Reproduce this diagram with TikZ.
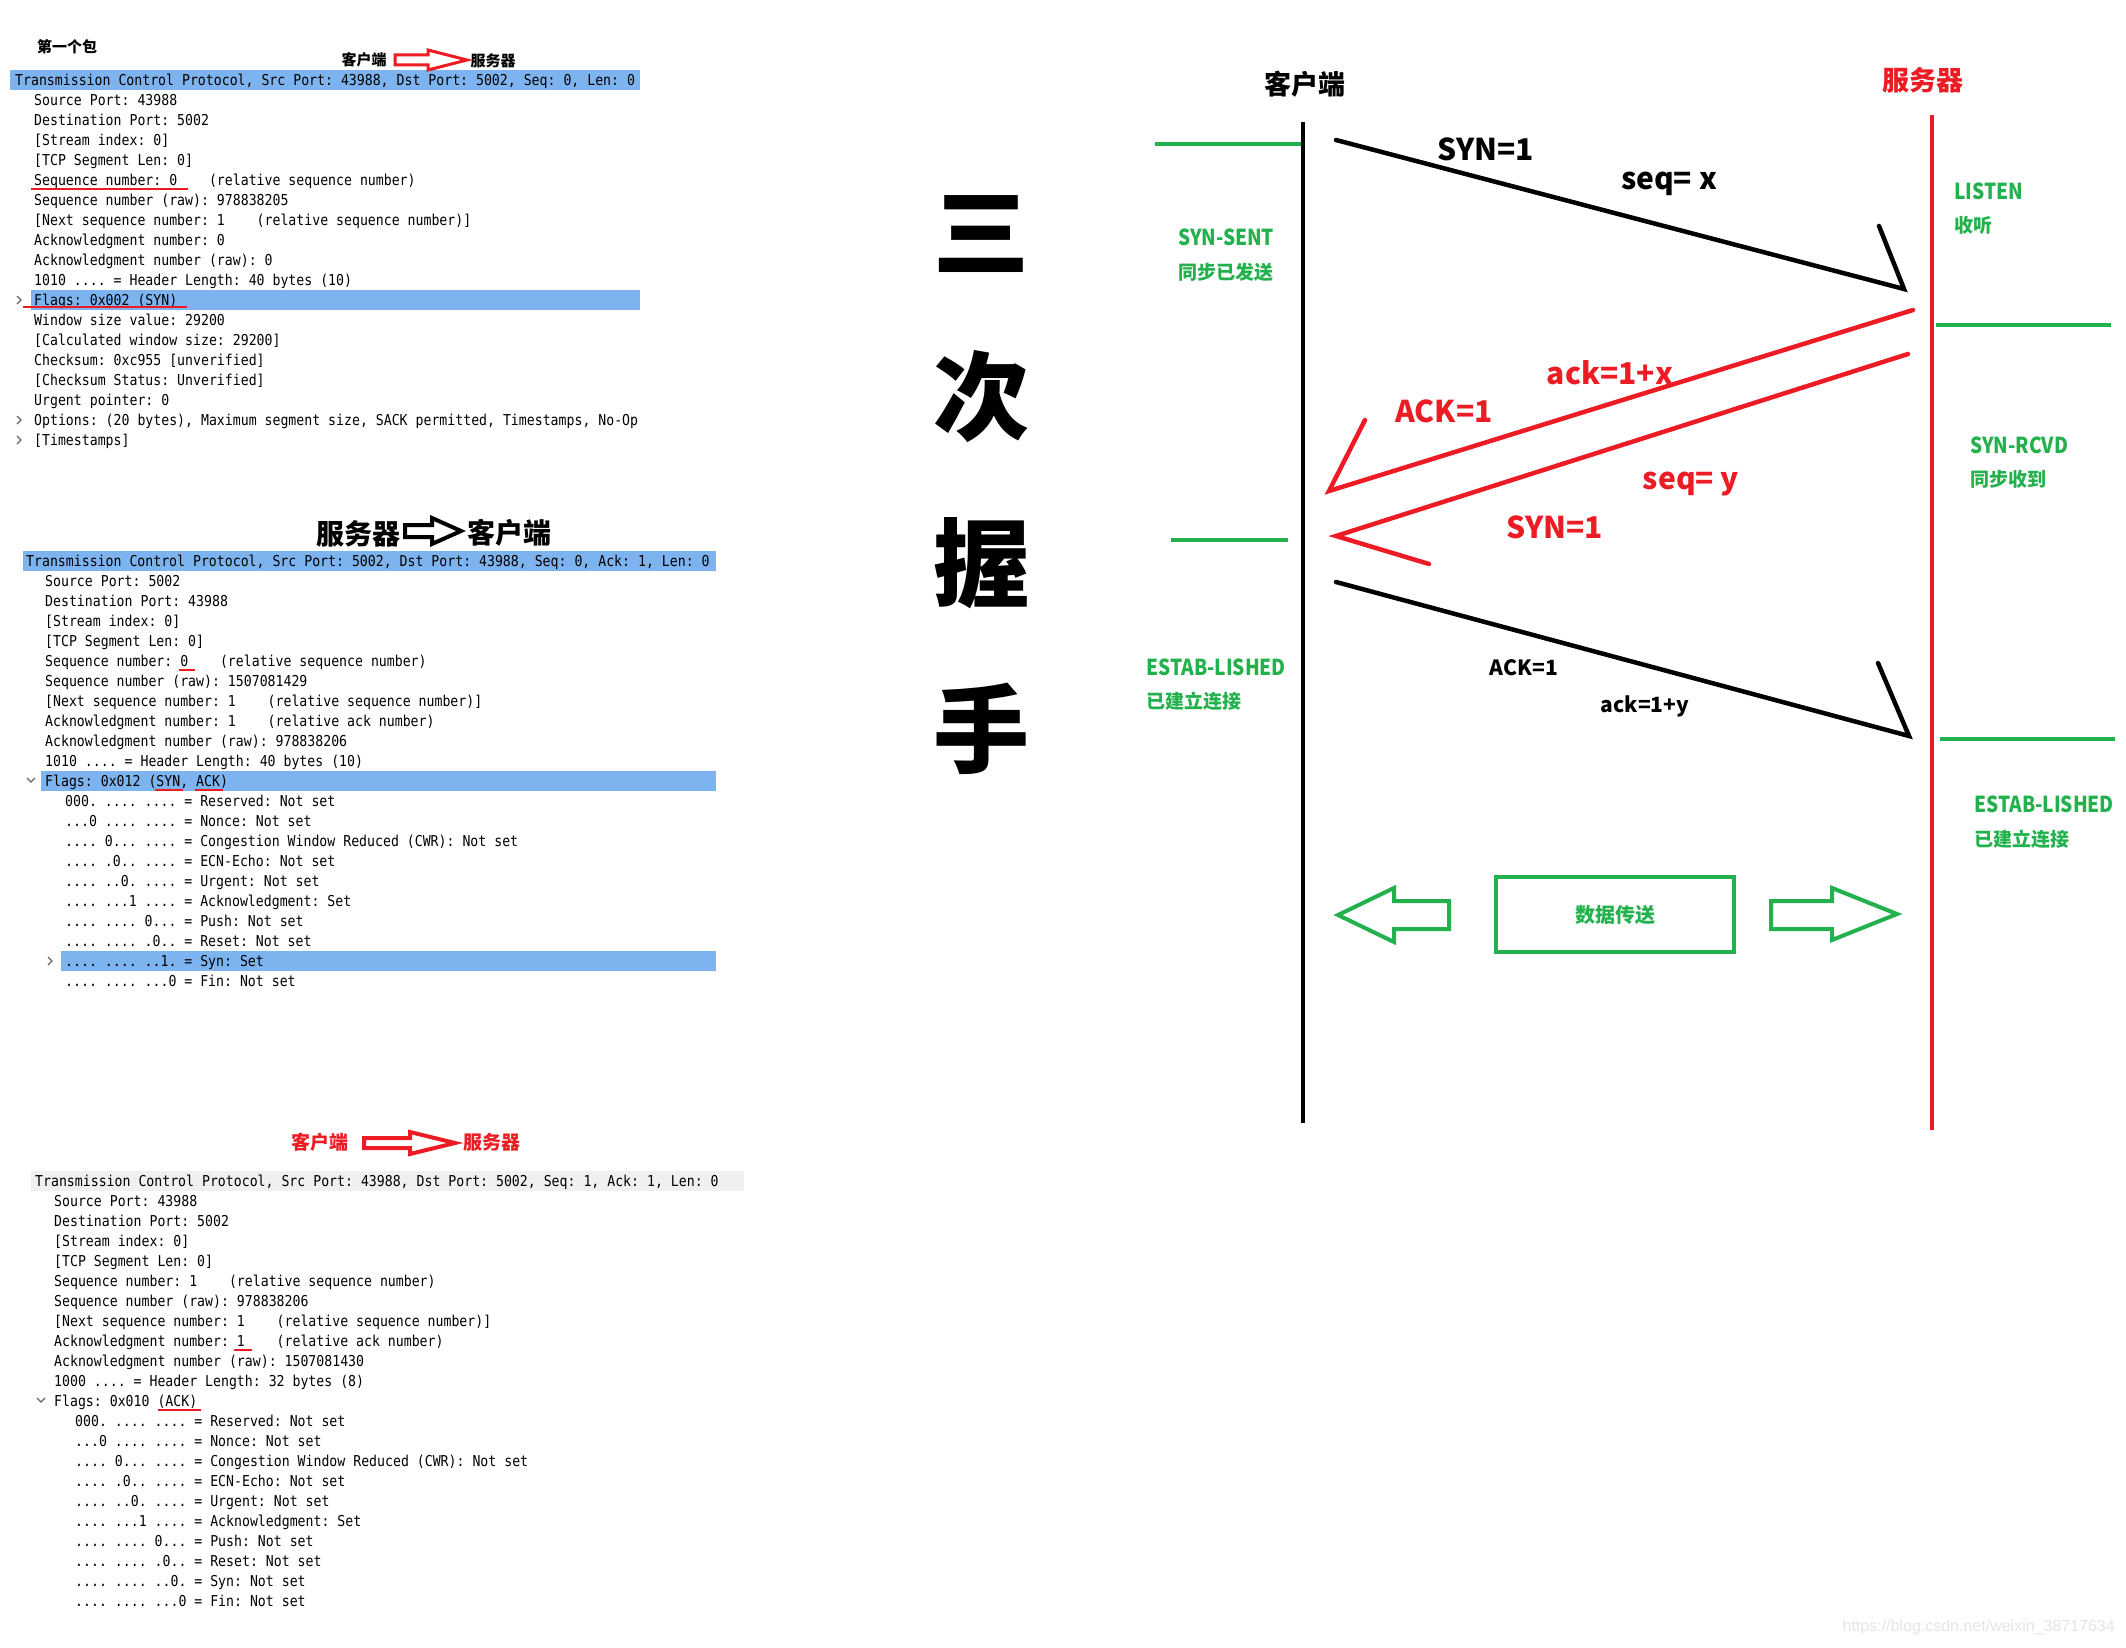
\documentclass[tikz,border=0pt]{standalone}
\usepackage{fontspec}
\newfontfamily\monof[FakeStretch=0.88]{DejaVu Sans Mono}
\newfontfamily\cjk{Noto Sans CJK SC}
\newfontfamily\cjkn[FakeStretch=0.87]{Noto Sans CJK SC}
\newfontfamily\wmf{Liberation Sans}
\definecolor{wsblue}{HTML}{7DB4F0}
\definecolor{wsgray}{HTML}{F0F0F0}
\definecolor{pred}{HTML}{ED1C24}
\definecolor{pgreen}{HTML}{22B14C}
\newcounter{wl}
\newcommand\wl[3]{\stepcounter{wl}\node[mono] (w\arabic{wl}) at (#1,{#2+5.5}) {#3};}
\newcommand\fs[1]{\fontsize{#1}{#1}\selectfont}
\begin{document}
\begin{tikzpicture}[x=1pt,y=-1pt,
  mono/.style={anchor=base west,inner sep=0pt,font=\monof\fs{15}\frenchspacing},
  lab/.style={inner sep=0pt,font=\cjk\bfseries\fs{#1}},
  gst/.style={anchor=west,inner sep=0pt,text=pgreen,font=\cjk\bfseries\fs{#1}},
  gstn/.style={anchor=west,inner sep=0pt,text=pgreen,font=\cjkn\bfseries\fs{#1}},
  uline/.style={pred,line width=2.5pt},
  chev/.style={black!60,line width=1.3pt},
  msg/.style={line width=4.5pt,line join=miter,line cap=round},
  grn/.style={pgreen,line width=4.5pt}]
\fill[white] (0,0) rectangle (2126,1648);
\useasboundingbox (0,0) rectangle (2126,1648);

% ---------- block 1 ----------
\fill[wsblue] (10,70) rectangle (640,90);
\fill[wsblue] (31,290) rectangle (640,310);
\node[lab=15] (b1t) at (67,47) {第一个包};
\node[lab=15] (b1c) at (364,60) {客户端};
\node[lab=15] (b1s) at (493,61) {服务器};
\draw[pred,line width=3pt,fill=white] (395,55)--(428,55)--(428,50)--(467,60)--(428,70)--(428,65)--(395,65)--cycle;
\wl{15}{80}{Transmission Control Protocol, Src Port: 43988, Dst Port: 5002, Seq: 0, Len: 0}
\wl{34}{100}{Source Port: 43988}
\wl{34}{120}{Destination Port: 5002}
\wl{34}{140}{[Stream index: 0]}
\wl{34}{160}{[TCP Segment Len: 0]}
\wl{34}{180}{Sequence number: 0~~~~(relative sequence number)}
\wl{34}{200}{Sequence number (raw): 978838205}
\wl{34}{220}{[Next sequence number: 1~~~~(relative sequence number)]}
\wl{34}{240}{Acknowledgment number: 0}
\wl{34}{260}{Acknowledgment number (raw): 0}
\wl{34}{280}{1010 .... = Header Length: 40 bytes (10)}
\wl{34}{300}{Flags: 0x002 (SYN)}
\wl{34}{320}{Window size value: 29200}
\wl{34}{340}{[Calculated window size: 29200]}
\wl{34}{360}{Checksum: 0xc955 [unverified]}
\wl{34}{380}{[Checksum Status: Unverified]}
\wl{34}{400}{Urgent pointer: 0}
\wl{34}{420}{Options: (20 bytes), Maximum segment size, SACK permitted, Timestamps, No-Op}
\wl{34}{440}{[Timestamps]}
\draw[uline] (31,189)--(188,189);
\draw[uline] (23,307)--(187,307);
\draw[chev] (17,296)--(21,300)--(17,304);
\draw[chev] (17,416)--(21,420)--(17,424);
\draw[chev] (17,436)--(21,440)--(17,444);

% ---------- block 2 ----------
\fill[wsblue] (23,551) rectangle (716,571);
\fill[wsblue] (41,771) rectangle (716,791);
\fill[wsblue] (61,951) rectangle (716,971);
\node[lab=28] (b2s) at (358,534) {服务器};
\node[lab=28] (b2c) at (509,533) {客户端};
\draw[black,line width=4pt,fill=white] (405,525)--(432,525)--(432,518)--(461,531)--(432,544)--(432,537)--(405,537)--cycle;
\wl{26}{561}{Transmission Control Protocol, Src Port: 5002, Dst Port: 43988, Seq: 0, Ack: 1, Len: 0}
\wl{45}{581}{Source Port: 5002}
\wl{45}{601}{Destination Port: 43988}
\wl{45}{621}{[Stream index: 0]}
\wl{45}{641}{[TCP Segment Len: 0]}
\wl{45}{661}{Sequence number: 0~~~~(relative sequence number)}
\wl{45}{681}{Sequence number (raw): 1507081429}
\wl{45}{701}{[Next sequence number: 1~~~~(relative sequence number)]}
\wl{45}{721}{Acknowledgment number: 1~~~~(relative ack number)}
\wl{45}{741}{Acknowledgment number (raw): 978838206}
\wl{45}{761}{1010 .... = Header Length: 40 bytes (10)}
\wl{45}{781}{Flags: 0x012 (SYN, ACK)}
\wl{65}{801}{000. .... .... = Reserved: Not set}
\wl{65}{821}{...0 .... .... = Nonce: Not set}
\wl{65}{841}{.... 0... .... = Congestion Window Reduced (CWR): Not set}
\wl{65}{861}{.... .0.. .... = ECN-Echo: Not set}
\wl{65}{881}{.... ..0. .... = Urgent: Not set}
\wl{65}{901}{.... ...1 .... = Acknowledgment: Set}
\wl{65}{921}{.... .... 0... = Push: Not set}
\wl{65}{941}{.... .... .0.. = Reset: Not set}
\wl{65}{961}{.... .... ..1. = Syn: Set}
\wl{65}{981}{.... .... ...0 = Fin: Not set}
\draw[uline] (179,670)--(195,670);
\draw[uline] (155,790)--(183,790);
\draw[uline] (195,790)--(223,790);
\draw[chev] (27,778)--(31,782)--(35,778);
\draw[chev] (48,957)--(52,961)--(48,965);

% ---------- block 3 ----------
\fill[wsgray] (31,1171) rectangle (744,1191);
\node[lab=19,text=pred] (b3c) at (320,1142) {客户端};
\node[lab=19,text=pred] (b3s) at (492,1142) {服务器};
\draw[pred,line width=4pt,fill=white] (364,1138)--(410,1138)--(410,1132)--(455,1143)--(410,1154)--(410,1148)--(364,1148)--cycle;
\wl{35}{1181}{Transmission Control Protocol, Src Port: 43988, Dst Port: 5002, Seq: 1, Ack: 1, Len: 0}
\wl{54}{1201}{Source Port: 43988}
\wl{54}{1221}{Destination Port: 5002}
\wl{54}{1241}{[Stream index: 0]}
\wl{54}{1261}{[TCP Segment Len: 0]}
\wl{54}{1281}{Sequence number: 1~~~~(relative sequence number)}
\wl{54}{1301}{Sequence number (raw): 978838206}
\wl{54}{1321}{[Next sequence number: 1~~~~(relative sequence number)]}
\wl{54}{1341}{Acknowledgment number: 1~~~~(relative ack number)}
\wl{54}{1361}{Acknowledgment number (raw): 1507081430}
\wl{54}{1381}{1000 .... = Header Length: 32 bytes (8)}
\wl{54}{1401}{Flags: 0x010 (ACK)}
\wl{75}{1421}{000. .... .... = Reserved: Not set}
\wl{75}{1441}{...0 .... .... = Nonce: Not set}
\wl{75}{1461}{.... 0... .... = Congestion Window Reduced (CWR): Not set}
\wl{75}{1481}{.... .0.. .... = ECN-Echo: Not set}
\wl{75}{1501}{.... ..0. .... = Urgent: Not set}
\wl{75}{1521}{.... ...1 .... = Acknowledgment: Set}
\wl{75}{1541}{.... .... 0... = Push: Not set}
\wl{75}{1561}{.... .... .0.. = Reset: Not set}
\wl{75}{1581}{.... .... ..0. = Syn: Not set}
\wl{75}{1601}{.... .... ...0 = Fin: Not set}
\draw[uline] (234,1350)--(252,1350);
\draw[uline] (158,1410)--(201,1410);
\draw[chev] (37,1398)--(41,1402)--(45,1398);

% ---------- big title ----------
\node[lab=96] (k1) at (981,234) {三};
\node[lab=96] (k2) at (981,397) {次};
\node[lab=96] (k3) at (981,563) {握};
\node[lab=96] (k4) at (981,729) {手};

% ---------- sequence diagram ----------
\node[lab=27] (cl) at (1305,84) {客户端};
\node[lab=27,text=pred] (sv) at (1923,80) {服务器};
\coordinate (ct) at (1303,122); \coordinate (cb) at (1303,1123);
\coordinate (st) at (1932,115); \coordinate (sb) at (1932,1130);
\draw[line width=4pt] (ct)--(cb);
\draw[pred,line width=3.5pt] (st)--(sb);

\draw[grn] (1155,144)--(1301,144);
\draw[grn] (1171,540)--(1288,540);
\draw[grn] (1936,325)--(2111,325);
\draw[grn] (1940,739)--(2115,739);

\coordinate (a1s) at (1336,140); \coordinate (a1e) at (1904,289); \coordinate (a1b) at (1879,226);
\coordinate (a2s) at (1913,310); \coordinate (a2e) at (1329,491); \coordinate (a2b) at (1365,420);
\coordinate (a3s) at (1908,354); \coordinate (a3e) at (1336,536); \coordinate (a3b) at (1429,564);
\coordinate (a4s) at (1336,582); \coordinate (a4e) at (1909,736); \coordinate (a4b) at (1878,663);
\draw[msg] (a1s)--(a1e)--(a1b);
\draw[msg,pred] (a2s)--(a2e)--(a2b);
\draw[msg,pred] (a3s)--(a3e)--(a3b);
\draw[msg] (a4s)--(a4e)--(a4b);

\node[lab=30] (l1) at (1486,149) {SYN=1};
\node[lab=30] (l2) at (1669,184) {seq= x};
\node[lab=30,text=pred] (l3) at (1610,373) {ack=1+x};
\node[lab=30,text=pred] (l4) at (1444,411) {ACK=1};
\node[lab=30,text=pred] (l5) at (1691,484) {seq= y};
\node[lab=30,text=pred] (l6) at (1555,527) {SYN=1};
\node[lab=21] (l7) at (1524,668) {ACK=1};
\node[lab=21] (l8) at (1645,706) {ack=1+y};

\node[gstn=22] (s1) at (1178,237) {SYN-SENT};
\node[gst=19] (s1c) at (1178,272) {同步已发送};
\node[gstn=22] (s2) at (1954,191) {LISTEN};
\node[gst=19] (s2c) at (1954,225) {收听};
\node[gstn=22] (s3) at (1970,445) {SYN-RCVD};
\node[gst=19] (s3c) at (1970,479) {同步收到};
\node[gstn=22] (s4) at (1146,667) {ESTAB-LISHED};
\node[gst=19] (s4c) at (1146,701) {已建立连接};
\node[gstn=22] (s5) at (1974,804) {ESTAB-LISHED};
\node[gst=19] (s5c) at (1974,839) {已建立连接};

\node[draw=pgreen,line width=4.5pt,minimum width=238pt,minimum height=75pt,inner sep=0pt] (box) at (1615,914.5) {};
\node[lab=20,text=pgreen] (boxt) at (box.center) {数据传送};
\draw[pgreen,line width=4pt] (1338,915)--(1394,888)--(1394,901)--(1449,901)--(1449,929)--(1394,929)--(1394,942)--cycle;
\draw[pgreen,line width=4pt] (1771,901)--(1832,901)--(1832,888)--(1897,914)--(1832,940)--(1832,929)--(1771,929)--cycle;

\node[anchor=east,inner sep=0pt,text=black!10,font=\wmf\fs{16}] (wm) at (2115,1627) {https://blog.csdn.net/weixin\_38717634};
\end{tikzpicture}
\end{document}
